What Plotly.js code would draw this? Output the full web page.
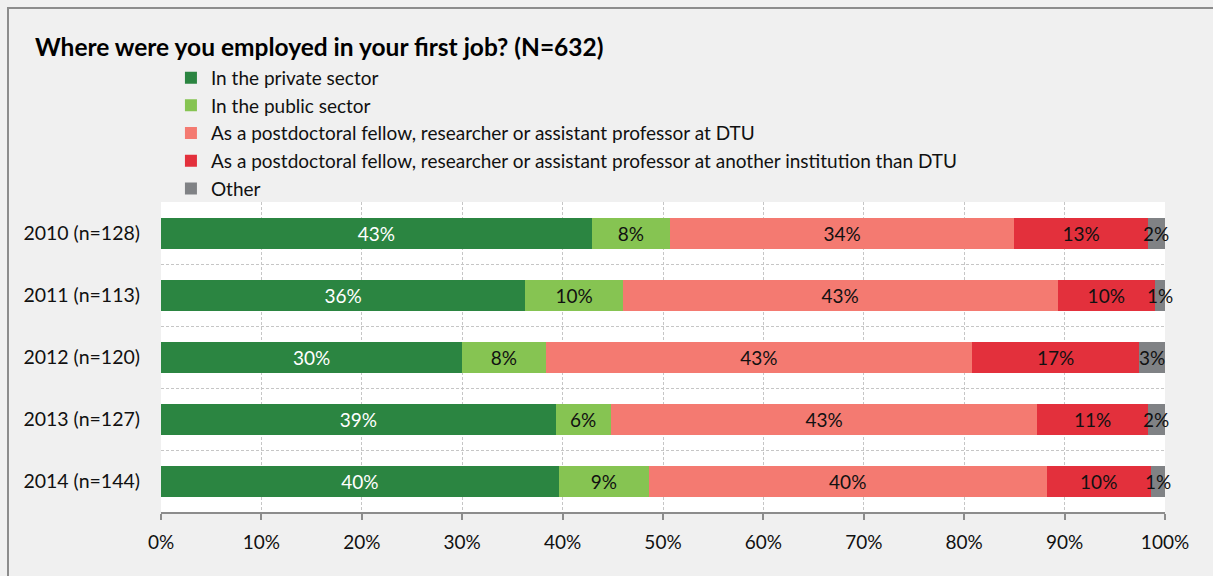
<!DOCTYPE html>
<html>
<head>
<meta charset="utf-8">
<script src="https://cdn.plot.ly/plotly-3.0.1.min.js"></script>
<style>
  html, body { margin: 0; padding: 0; background: #f0f0f0; }
  #chart { width: 1213px; height: 576px; }
</style>
</head>
<body>
<div id="chart"></div>
<script>
// ---- data ----
var categories = ['2010 (n=128)', '2011 (n=113)', '2012 (n=120)', '2013 (n=127)', '2014 (n=144)'];
var seriesNames = [
  'In the private sector',
  'In the public sector',
  'As a postdoctoral fellow, researcher or assistant professor at DTU',
  'As a postdoctoral fellow, researcher or assistant professor at another institution than DTU',
  'Other'
];
var privateSector = [42.9, 36.3, 30.0, 39.3, 39.6];
var publicSector  = [7.8, 9.7, 8.3, 5.5, 9.0];
var postdocDTU    = [34.3, 43.3, 42.5, 42.5, 39.6];
var postdocOther  = [13.3, 9.7, 16.6, 11.0, 10.4];
var otherJob      = [1.7, 1.0, 2.6, 1.7, 1.4];

var privateLabels   = [43, 36, 30, 39, 40];
var publicLabels    = [8, 10, 8, 6, 9];
var dtuLabels       = [34, 43, 43, 43, 40];
var otherInstLabels = [13, 10, 17, 11, 10];
var otherLabels     = [2, 1, 3, 2, 1];

var xTickVals   = [0, 10, 20, 30, 40, 50, 60, 70, 80, 90, 100];
var xTickLabels = ['0%', '10%', '20%', '30%', '40%', '50%', '60%', '70%', '80%', '90%', '100%'];

// ---- styling ----
var colors = ['#2b8541', '#86c452', '#f47a71', '#e3303c', '#808285'];
var textColors = ['#ffffff', '#111111', '#111111', '#111111', '#111111'];
var FONT = 'Lato, "Open Sans", sans-serif';

var values = [privateSector, publicSector, postdocDTU, postdocOther, otherJob];
var labels = [privateLabels, publicLabels, dtuLabels, otherInstLabels, otherLabels];
var LAST = values.length - 1;

var traces = values.map(function (v, i) {
  return {
    type: 'bar',
    orientation: 'h',
    name: seriesNames[i],
    legendgroup: 'g' + i,
    y: categories,
    x: v,
    text: i === LAST ? null : labels[i],
    texttemplate: i === LAST ? '' : '%{text}%',
    textposition: i === LAST ? 'none' : 'inside',
    insidetextanchor: 'middle',
    textangle: 0,
    textfont: { family: FONT, size: 19, color: textColors[i] },
    marker: { color: colors[i], line: { width: 0 } },
    cliponaxis: false,
    hoverinfo: 'skip'
  };
});

// labels of the thin last segment, placed at its centre (computed from the data)
var annotations = categories.map(function (c, j) {
  var total = 0;
  for (var i = 0; i < values.length; i++) total += values[i][j];
  return {
    x: total - otherJob[j] / 2, y: c, xref: 'x', yref: 'y',
    text: otherLabels[j] + '%', showarrow: false,
    xanchor: 'center', yanchor: 'middle',
    font: { family: FONT, size: 19, color: textColors[LAST] }
  };
});

var layout = {
  width: 1213,
  height: 576,
  paper_bgcolor: '#f0f0f0',
  plot_bgcolor: '#ffffff',
  margin: { l: 161, r: 48, t: 202, b: 64, autoexpand: false },
  barmode: 'stack',
  bargap: 0.5,
  font: { family: FONT, size: 19, color: '#111111' },
  uniformtext: { mode: 'show', minsize: 19 },
  title: {
    text: '<b>Where were you employed in your first job? (N=632)</b>',
    font: { family: FONT, size: 24.5, color: '#000000' },
    xref: 'container', x: 35 / 1213, xanchor: 'left',
    yref: 'container', y: 1 - 47 / 576, yanchor: 'middle'
  },
  showlegend: true,
  legend: {
    orientation: 'v',
    x: 0.0099, xanchor: 'left',
    y: 1.462, yanchor: 'top',
    bgcolor: 'rgba(0,0,0,0)',
    font: { family: FONT, size: 19, color: '#111111' },
    itemwidth: 30,
    tracegroupgap: 0,
    traceorder: 'normal'
  },
  annotations: annotations,
  xaxis: {
    range: [0, 100],
    tickmode: 'array',
    tickvals: xTickVals,
    ticktext: xTickLabels,
    showgrid: true,
    gridcolor: '#c6c6c6',
    gridwidth: 1,
    griddash: '3px,2px',
    zeroline: false,
    showline: true,
    linecolor: '#8c8c8c',
    linewidth: 2,
    ticks: 'outside',
    ticklen: 6,
    tickwidth: 2,
    tickcolor: '#8c8c8c',
    ticklabelstandoff: 6,
    tickfont: { family: FONT, size: 19, color: '#111111' },
    fixedrange: true
  },
  yaxis: {
    type: 'category',
    autorange: 'reversed',
    tickson: 'boundaries',
    ticks: '',
    showgrid: true,
    gridcolor: '#c6c6c6',
    gridwidth: 1,
    griddash: '3px,2px',
    showline: false,
    zeroline: false,
    ticklabelstandoff: 20,
    tickfont: { family: FONT, size: 19.5, color: '#111111' },
    fixedrange: true
  },
  shapes: [{
    type: 'rect', xref: 'paper', yref: 'paper',
    x0: (8 - 161) / 1004, x1: 1.2,
    y0: -0.4, y1: (512 - 8) / 310,
    line: { color: '#8c8c8c', width: 2 },
    fillcolor: 'rgba(0,0,0,0)',
    layer: 'below'
  }]
};

Plotly.newPlot('chart', traces, layout, { displayModeBar: false, staticPlot: true });
</script>
</body>
</html>
